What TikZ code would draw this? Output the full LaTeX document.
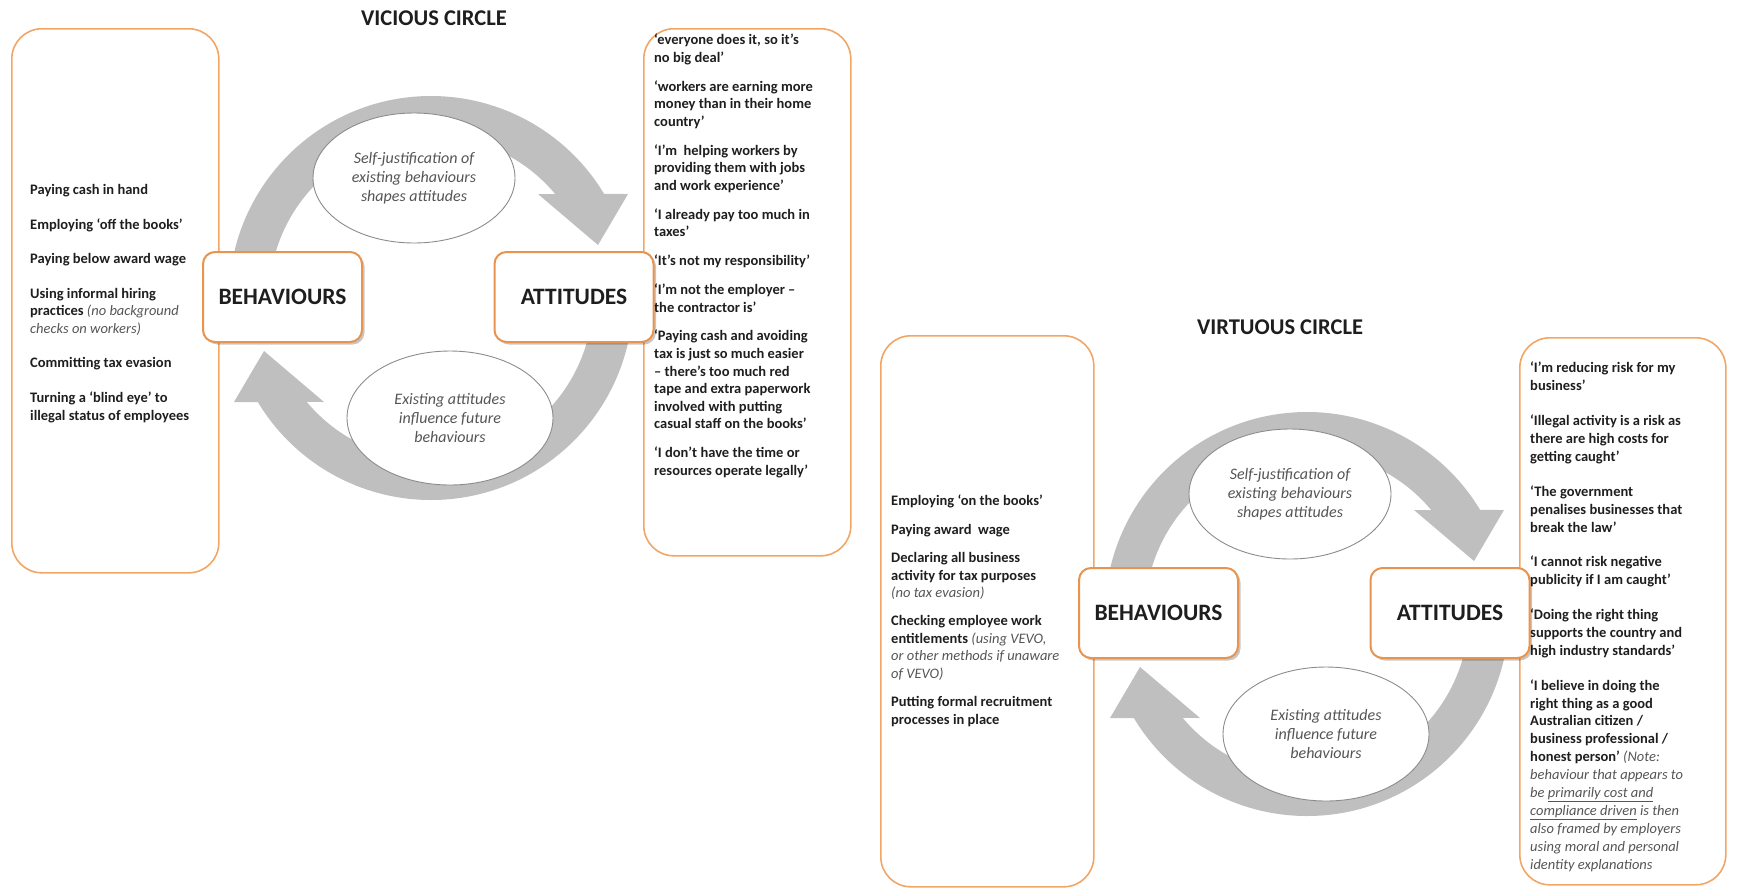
\documentclass[tikz,border=0pt]{standalone}
\usepackage{fontspec}
\setmainfont{Carlito}
\usetikzlibrary{shapes.geometric,shadows}

\definecolor{panelorange}{RGB}{241,166,102}
\definecolor{boxorange}{RGB}{232,148,78}
\definecolor{arrowgrey}{RGB}{191,191,191}
\definecolor{ellipsegrey}{RGB}{140,140,140}
\definecolor{textdark}{RGB}{30,30,30}
\definecolor{notegrey}{RGB}{85,85,85}

% italic asides inside the bold lists
\newcommand\asidetext[1]{{\mdseries\itshape\color{notegrey}#1}}

\begin{document}
\begin{tikzpicture}[x=1pt,y=-1pt,
  panel/.style={draw=panelorange, line width=1.6pt, rounded corners=30pt,
    minimum width=207, minimum height=520, anchor=north west, inner sep=0},
  listtext/.style={align=left, inner sep=0, anchor=north west,
    font=\fontsize{14.5}{#1}\selectfont\bfseries, text=textdark},
  keybox/.style={draw=boxorange, line width=2pt, fill=white, rounded corners=12pt,
    minimum width=159, minimum height=90, inner sep=0,
    font=\fontsize{23.5}{27}\selectfont\bfseries, text=textdark,
    drop shadow={shadow xshift=2.5pt, shadow yshift=-2.5pt, fill=black, opacity=0.22}},
  bubble/.style={ellipse, draw=ellipsegrey, line width=0.9pt, fill=white,
    align=center, inner sep=0, minimum width=202, minimum height=130,
    font=\fontsize{16}{19}\selectfont\itshape, text=notegrey},
  heading/.style={font=\fontsize{22.5}{26}\selectfont\bfseries, text=textdark},
  halfring/.pic={
    \fill[arrowgrey] (-180:202) arc[start angle=-180, end angle=-31.0, radius=202]
      -- (197,-104) -- (167,-53) -- (107,-104) -- (-39.9:162)
      arc[start angle=-39.9, end angle=-180, radius=162] -- cycle;
  }]
\useasboundingbox (0,0) rectangle (1740,892);

% ---------------- vicious circle ----------------
\node[heading] (vtitle) at (434,18) {VICIOUS CIRCLE};

\node[panel, minimum height=544] (vlpanel) at (11,28) {};
\node[panel, minimum height=527] (vrpanel) at (643,28) {};

\node[listtext=17.4] (vltext) at (30,184) {%
Paying cash in hand\\[17.3pt]
Employing ‘off the books’\\[17.3pt]
Paying below award wage\\[17.3pt]
Using informal hiring\\
practices \asidetext{(no background}\\
\asidetext{checks on workers)}\\[17.3pt]
Committing tax evasion\\[17.3pt]
Turning a ‘blind eye’ to\\
illegal status of employees};

\node[listtext=17.6] (vrtext) at (654,34) {%
‘everyone does it, so it’s\\
no big deal’\\[11.2pt]
‘workers are earning more\\
money than in their home\\
country’\\[11.2pt]
‘I’m\ \ helping workers by\\
providing them with jobs\\
and work experience’\\[11.2pt]
‘I already pay too much in\\
taxes’\\[11.2pt]
‘It’s not my responsibility’\\[11.2pt]
‘I’m not the employer –\\
the contractor is’\\[11.2pt]
‘Paying cash and avoiding\\
tax is just so much easier\\
– there’s too much red\\
tape and extra paperwork\\
involved with putting\\
casual staff on the books’\\[11.2pt]
‘I don’t have the time or\\
resources operate legally’};

\coordinate (vring) at (431,298);
\pic at (vring) {halfring};
\pic[rotate=180] at (vring) {halfring};

\node[bubble] (vtop) at (414,178) {Self-justification of\\existing behaviours\\shapes attitudes};
\node[bubble, minimum width=206, minimum height=134] (vbot) at (450,418) {Existing attitudes\\influence future\\behaviours};

\node[keybox] (vbeh) at (282.5,297) {BEHAVIOURS};
\node[keybox] (vatt) at (574,297) {ATTITUDES};

% ---------------- virtuous circle ----------------
\node[heading] (gtitle) at (1280,327) {VIRTUOUS CIRCLE};

\node[panel, minimum width=213, minimum height=551] (glpanel) at (880,335) {};
\node[panel, minimum width=206, minimum height=547] (grpanel) at (1519,337) {};

\node[listtext=17.5] (gltext) at (891,495) {%
Employing ‘on the books’\\[10.8pt]
Paying award\ \ wage\\[10.8pt]
Declaring all business\\
activity for tax purposes\\
\asidetext{(no tax evasion)}\\[10.8pt]
Checking employee work\\
entitlements \asidetext{(using VEVO,}\\
\asidetext{or other methods if unaware}\\
\asidetext{of VEVO)}\\[10.8pt]
Putting formal recruitment\\
processes in place};

\node[listtext=17.9] (grtext) at (1530,362) {%
‘I’m reducing risk for my\\
business’\\[16.9pt]
‘Illegal activity is a risk as\\
there are high costs for\\
getting caught’\\[16.9pt]
‘The government\\
penalises businesses that\\
break the law’\\[16.9pt]
‘I cannot risk negative\\
publicity if I am caught’\\[16.9pt]
‘Doing the right thing\\
supports the country and\\
high industry standards’\\[16.9pt]
‘I believe in doing the\\
right thing as a good\\
Australian citizen /\\
business professional /\\
honest person’ \asidetext{(Note:}\\
\asidetext{behaviour that appears to}\\
\asidetext{be \underline{primarily cost and}}\\
\asidetext{\underline{compliance driven} is then}\\
\asidetext{also framed by employers}\\
\asidetext{using moral and personal}\\
\asidetext{identity explanations}};

\coordinate (gring) at (1307,614);
\pic at (gring) {halfring};
\pic[rotate=180] at (gring) {halfring};

\node[bubble] (gtop) at (1290,494) {Self-justification of\\existing behaviours\\shapes attitudes};
\node[bubble, minimum width=206, minimum height=134] (gbot) at (1326,734) {Existing attitudes\\influence future\\behaviours};

\node[keybox] (gbeh) at (1158.5,613) {BEHAVIOURS};
\node[keybox] (gatt) at (1450,613) {ATTITUDES};
\end{tikzpicture}
\end{document}
